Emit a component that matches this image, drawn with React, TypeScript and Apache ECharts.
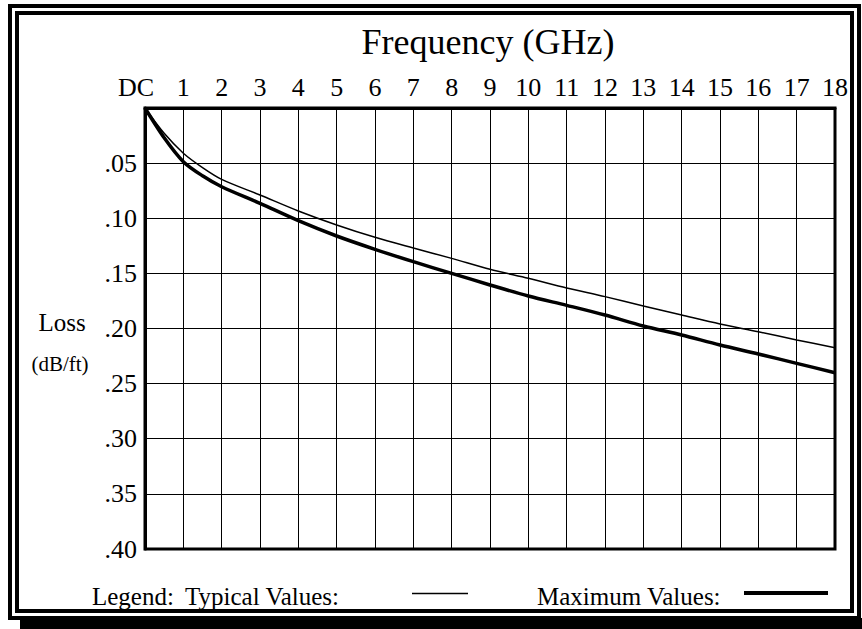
import React, { useEffect, useRef } from "react";
import * as echarts from "echarts";

const freqGHz = [0, 0.5, 1, 1.5, 2, 3, 4, 5, 6, 7, 8, 9, 10, 11, 12, 13, 14, 15, 16, 17, 18];
const typicalLoss = [0, 0.023, 0.041, 0.054, 0.0647, 0.0789, 0.0934, 0.1061, 0.1173, 0.127, 0.1364, 0.1463, 0.1545, 0.1632, 0.1711, 0.1796, 0.1878, 0.1959, 0.2029, 0.2104, 0.2174];
const maximumLoss = [0, 0.027, 0.0487, 0.0615, 0.0714, 0.0865, 0.1022, 0.1161, 0.1282, 0.1394, 0.15, 0.1605, 0.1705, 0.179, 0.1878, 0.1977, 0.2059, 0.215, 0.2231, 0.2316, 0.2401];

const FONT = "Liberation Serif";

export default function App() {
  const ref = useRef<HTMLDivElement>(null);
  useEffect(() => {
    document.body.style.margin = "0";
    const chart = echarts.init(ref.current!, null, { renderer: "svg" });
    const pair = (ys: number[]) => freqGHz.map((x, i) => [x, ys[i]]);
    const txt = (text: string, x: number, y: number, size: number, align = "left") => ({
      type: "text",
      x,
      y,
      style: { text, fontFamily: FONT, fontSize: size, fill: "#000", align, verticalAlign: "middle" },
    });
    chart.setOption({
      animation: false,
      backgroundColor: "#fff",
      textStyle: { fontFamily: FONT },
      grid: { left: 145, top: 108, width: 690, height: 441, show: true, borderColor: "#000", borderWidth: 3 },
      xAxis: {
        type: "value",
        position: "top",
        min: 0,
        max: 18,
        interval: 1,
        axisLine: { show: true, lineStyle: { color: "#000", width: 3 } },
        axisTick: { show: false },
        splitLine: { show: true, lineStyle: { color: "#000", width: 1 } },
        axisLabel: {
          color: "#000",
          fontFamily: FONT,
          fontSize: 26,
          margin: 8,
          formatter: (v: number) => (v === 0 ? "{dc|DC}" : String(v)),
          rich: { dc: { fontFamily: FONT, fontSize: 26, color: "#000", padding: [0, 18, 0, 0] } },
        },
      },
      yAxis: {
        type: "value",
        inverse: true,
        min: 0,
        max: 0.4,
        interval: 0.05,
        axisLine: { show: true, lineStyle: { color: "#000", width: 3 } },
        axisTick: { show: false },
        splitLine: { show: true, lineStyle: { color: "#000", width: 1 } },
        axisLabel: {
          color: "#000",
          fontFamily: FONT,
          fontSize: 26,
          margin: 8,
          formatter: (v: number) => {
            const n = Math.round(v * 100);
            return n === 0 ? "" : "." + String(n).padStart(2, "0");
          },
        },
      },
      series: [
        {
          name: "Typical Values",
          type: "line",
          data: pair(typicalLoss),
          showSymbol: false,
          smooth: 0.3,
          lineStyle: { color: "#000", width: 1.5 },
          z: 5,
        },
        {
          name: "Maximum Values",
          type: "line",
          data: pair(maximumLoss),
          showSymbol: false,
          smooth: 0.3,
          lineStyle: { color: "#000", width: 3.5 },
          z: 6,
        },
      ],
      graphic: [
        { type: "rect", shape: { x: 20, y: 618, width: 842, height: 11 }, style: { fill: "#000" } },
        { type: "rect", shape: { x: 10, y: 6, width: 849, height: 612 }, style: { fill: "none", stroke: "#000", lineWidth: 4 } },
        { type: "rect", shape: { x: 17, y: 13, width: 835, height: 598 }, style: { fill: "none", stroke: "#000", lineWidth: 4 } },
        txt("Frequency (GHz)", 488, 42, 36, "center"),
        txt("Loss", 62, 322, 25, "center"),
        txt("(dB/ft)", 60, 364, 21, "center"),
        txt("Legend:", 92, 596, 25),
        txt("Typical Values:", 185, 596, 25),
        { type: "line", shape: { x1: 412, y1: 593.5, x2: 468, y2: 593.5 }, style: { stroke: "#000", lineWidth: 1.5 } },
        txt("Maximum Values:", 537, 596, 25),
        { type: "line", shape: { x1: 744, y1: 593, x2: 828, y2: 593 }, style: { stroke: "#000", lineWidth: 4 } },
      ],
    });
    return () => chart.dispose();
  }, []);
  return <div ref={ref} style={{ position: "absolute", left: 0, top: 0, width: 862, height: 629 }} />;
}
